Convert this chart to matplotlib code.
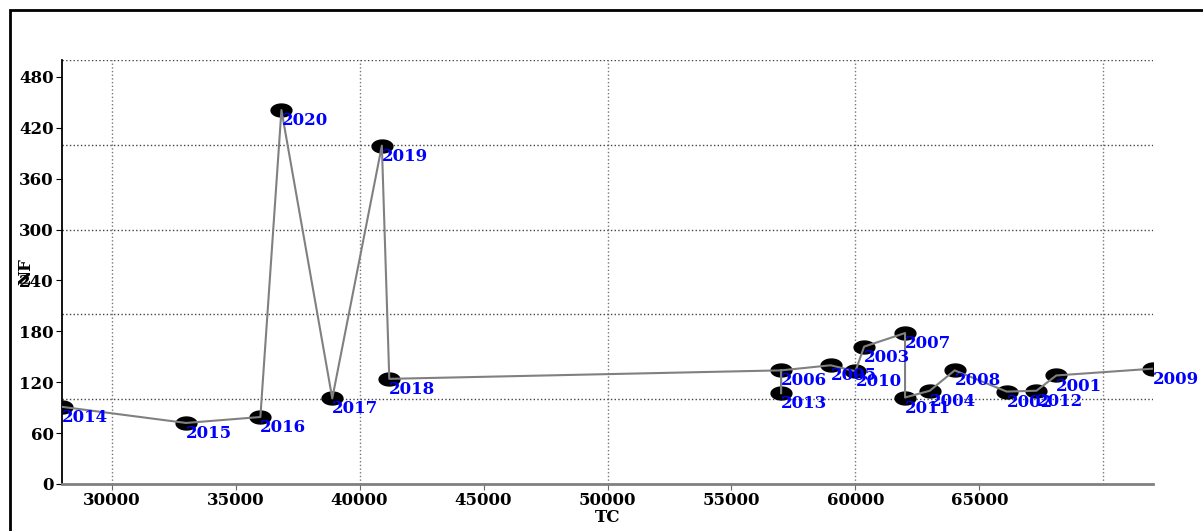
import numpy as np
import matplotlib
matplotlib.use("Agg")
import matplotlib.pyplot as plt
from matplotlib.path import Path
from matplotlib.patches import Rectangle

# ==== Données : TC / NF par année ====
annees = [2014, 2015, 2016, 2020, 2017, 2019, 2018, 2006, 2013, 2005,
          2010, 2003, 2007, 2011, 2004, 2008, 2002, 2012, 2001, 2009]
tc = [28000, 33000, 36000, 36850, 38900, 40900, 41200, 57000, 57000, 59000,
      60000, 60350, 62000, 62000, 63000, 64000, 66100, 67300, 68100, 72000]
nf = [91, 72, 79, 441, 101, 399, 124, 134, 107, 140,
      133, 162, 178, 102, 110, 134, 109, 110, 128, 136]

# ordre de tracé de la ligne (par TC croissant)
trace = [2014, 2015, 2016, 2020, 2017, 2019, 2018, 2006, 2013, 2006, 2005,
         2010, 2003, 2007, 2011, 2004, 2008, 2002, 2012, 2001, 2009]

xticks = [30000, 35000, 40000, 45000, 50000, 55000, 60000, 65000]
yticks = [0, 60, 120, 180, 240, 300, 360, 420, 480]
xgrid = [30000, 40000, 50000, 60000, 70000]
ygrid = [100, 200, 300, 400, 500]

police = {'family': 'DejaVu Serif', 'weight': 'bold', 'size': 12}

# marqueur elliptique
th = np.linspace(0, 2*np.pi, 60)
ellipse = Path(np.column_stack([np.cos(th), 0.62*np.sin(th)]), closed=True)

fig = plt.figure(figsize=(12.03, 5.31), dpi=100)
ax = fig.add_axes([62/1203, 1-484/531, (1153-62)/1203, (484-60)/531])

# cadre autour de la figure
fig.patches.append(Rectangle((10/1203, -0.1), 1.2, 1.1 - 10/531,
                             transform=fig.transFigure, fill=False,
                             edgecolor='black', linewidth=2))

idx = {a: i for i, a in enumerate(annees)}
lx = [tc[idx[a]] for a in trace]
ly = [nf[idx[a]] for a in trace]

ax.plot(tc, nf, linestyle='none', marker=ellipse, markersize=15,
        color='black', zorder=3)
ax.plot(lx, ly, color='gray', linewidth=1.5, zorder=4)

for a, x, y in zip(annees, tc, nf):
    ax.annotate(str(a), (x, y), xytext=(0, -1.5), textcoords='offset points',
                ha='left', va='top', color='blue', annotation_clip=False,
                zorder=5, **police)

ax.set_xlim(28000, 72000)
ax.set_ylim(0, 500)
ax.xaxis.remove_overlapping_locs = False
ax.yaxis.remove_overlapping_locs = False
ax.set_xticks(xticks)
ax.set_yticks(yticks)
ax.set_xticks(xgrid, minor=True)
ax.set_yticks(ygrid, minor=True)
ax.tick_params(which='minor', length=0)
ax.tick_params(axis='x', which='major', length=4, color='dimgray', pad=2)
ax.tick_params(axis='y', which='major', length=4, color='black', pad=2)
for lab in ax.get_xticklabels() + ax.get_yticklabels():
    lab.set_fontproperties(matplotlib.font_manager.FontProperties(**police))
ax.xaxis.grid(True, which='minor', linestyle=':', color='#777777', linewidth=1)
ax.yaxis.grid(True, which='minor', linestyle=':', color='#444444', linewidth=1)

ax.spines['top'].set_visible(False)
ax.spines['right'].set_visible(False)
ax.spines['left'].set_color('black')
ax.spines['left'].set_linewidth(1.3)
ax.spines['bottom'].set_color('gray')
ax.spines['bottom'].set_linewidth(2)

ax.set_xlabel('TC', **police)
ax.set_ylabel('NF', **police)
ax.xaxis.set_label_coords(0.5, -0.058)
ax.yaxis.set_label_coords(-0.025, 0.5)

fig.savefig('out.png', dpi=100)
